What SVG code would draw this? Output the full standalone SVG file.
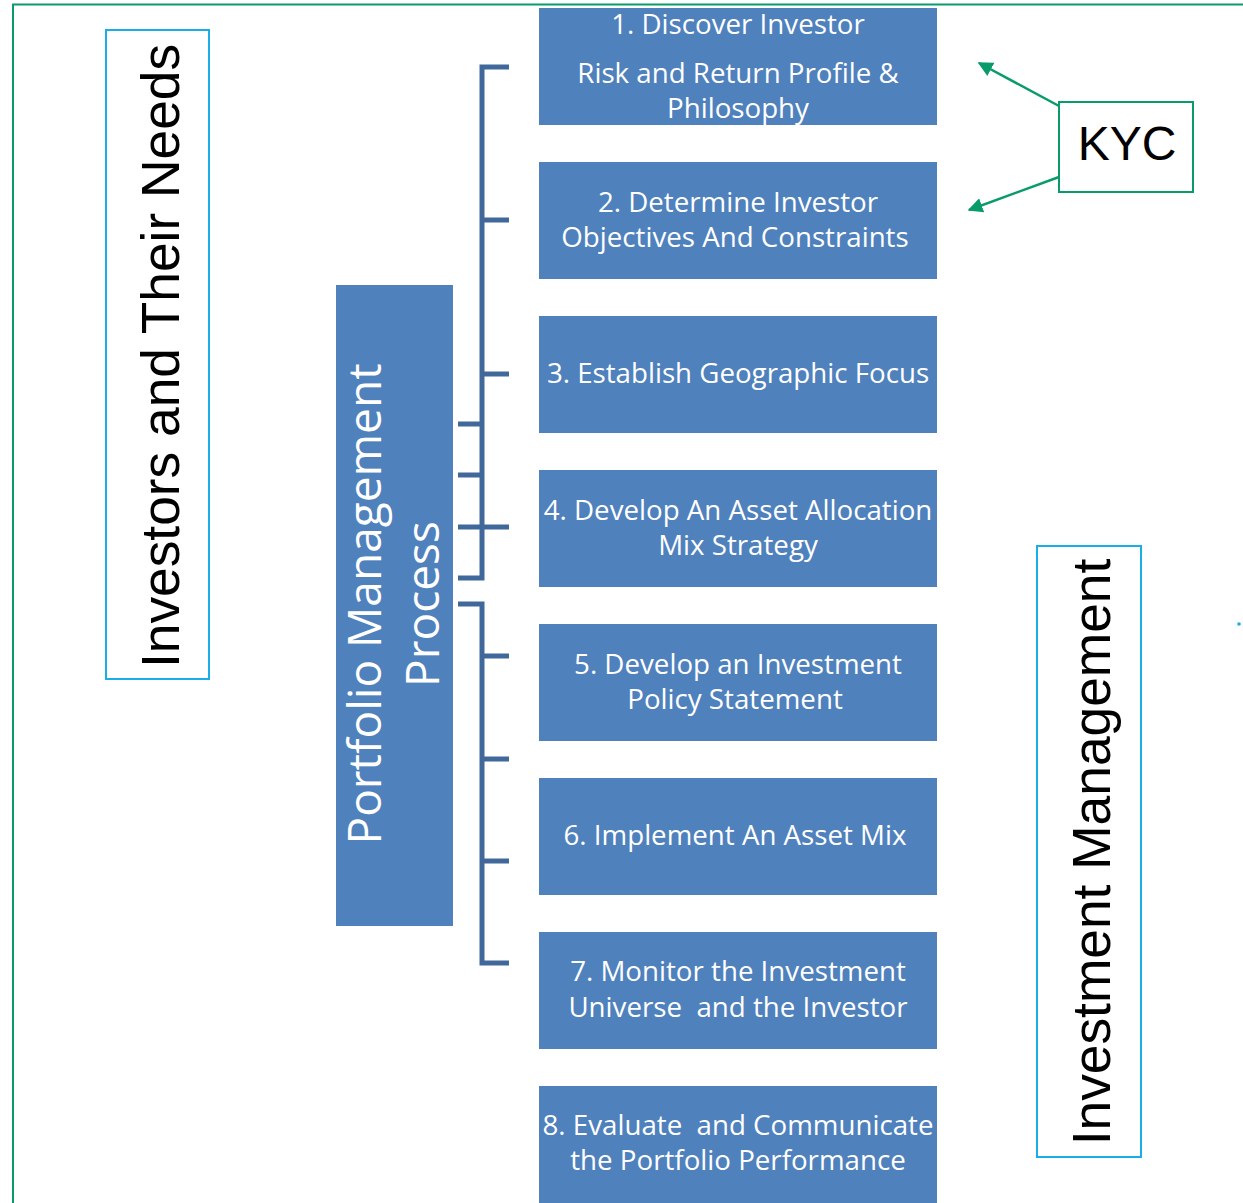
<svg xmlns="http://www.w3.org/2000/svg" width="1243" height="1203" viewBox="0 0 1243 1203">
<defs>
<style>
.step{fill:#4F81BD;}
.st{font-family:"Open Sans","Noto Sans",sans-serif;font-size:27.7px;fill:#fff;text-anchor:middle;}
.big{font-family:"Liberation Sans",Arial,sans-serif;font-size:53.3px;fill:#000;text-anchor:middle;}
.pm{font-family:"Open Sans","Noto Sans",sans-serif;font-size:46px;fill:#fff;text-anchor:middle;}
.br{fill:none;stroke:#41689A;stroke-width:5;}
.kyc{stroke:#0A9B6A;stroke-width:2.5;fill:none;}
</style>
<marker id="ah" viewBox="0 0 10 10" refX="9" refY="5" markerWidth="6" markerHeight="6" orient="auto" markerUnits="strokeWidth">
<path d="M0,0 L10,5 L0,10 z" fill="#0A9B6A"/>
</marker>
</defs>
<rect width="1243" height="1203" fill="#fff"/>
<path d="M13,1203 V4.5 H1243" fill="none" stroke="#0A9B6A" stroke-width="2"/>
<g id="investors">
<rect x="106" y="30" width="103" height="649" fill="none" stroke="#1AAEE6" stroke-width="2"/>
<text class="big" transform="translate(179,356) rotate(-90)">Investors and Their Needs</text>
</g>
<g id="pmp">
<rect x="336" y="285" width="117" height="641" fill="#4F81BD"/>
<text class="pm" transform="translate(381,604) rotate(-90)">Portfolio Management</text>
<text class="pm" transform="translate(439,604) rotate(-90)">Process</text>
</g>
<g id="connectors">
<path class="br" d="M509,67 H482 V578 H458 M482,220 H509 M482,374 H509 M458,527 H509 M458,424 H482 M458,475 H482"/>
<path class="br" d="M458,604 H482 V963 H509 M482,656 H509 M482,759 H509 M482,861 H509"/>
<line class="kyc" x1="1059" y1="106" x2="979" y2="63" marker-end="url(#ah)"/>
<line class="kyc" x1="1059" y1="177" x2="969" y2="210" marker-end="url(#ah)"/>
</g>
<g id="step1"><rect class="step" x="539" y="8" width="398" height="117"/>
<text class="st" x="738" y="34">1. Discover Investor</text>
<text class="st" x="738" y="83">Risk and Return Profile &amp;</text>
<text class="st" x="738" y="118">Philosophy</text></g>
<g id="step2"><rect class="step" x="539" y="162" width="398" height="117"/>
<text class="st" x="738" y="212">2. Determine Investor</text>
<text class="st" x="735" y="247">Objectives And Constraints</text></g>
<g id="step3"><rect class="step" x="539" y="316" width="398" height="117"/>
<text class="st" x="738" y="383">3. Establish Geographic Focus</text></g>
<g id="step4"><rect class="step" x="539" y="470" width="398" height="117"/>
<text class="st" x="738" y="520">4. Develop An Asset Allocation</text>
<text class="st" x="738" y="555">Mix Strategy</text></g>
<g id="step5"><rect class="step" x="539" y="624" width="398" height="117"/>
<text class="st" x="738" y="674">5. Develop an Investment</text>
<text class="st" x="735" y="709">Policy Statement</text></g>
<g id="step6"><rect class="step" x="539" y="778" width="398" height="117"/>
<text class="st" x="735" y="845">6. Implement An Asset Mix</text></g>
<g id="step7"><rect class="step" x="539" y="932" width="398" height="117"/>
<text class="st" x="738" y="981">7. Monitor the Investment</text>
<text class="st" x="738" y="1017" xml:space="preserve">Universe  and the Investor</text></g>
<g id="step8"><rect class="step" x="539" y="1086" width="398" height="117"/>
<text class="st" x="738" y="1135" xml:space="preserve">8. Evaluate  and Communicate</text>
<text class="st" x="738" y="1170">the Portfolio Performance</text></g>
<g id="kyc">
<rect x="1059" y="102" width="134" height="90" fill="#fff" stroke="#0A9B6A" stroke-width="2"/>
<text font-family="Liberation Sans,Arial,sans-serif" font-size="48" fill="#000" text-anchor="middle" x="1127" y="160">KYC</text>
</g>
<g id="invmgmt">
<rect x="1037" y="546" width="104" height="611" fill="none" stroke="#1AAEE6" stroke-width="2"/>
<text class="big" transform="translate(1110,852) rotate(-90)">Investment Management</text>
</g>
<circle cx="1239" cy="624" r="1.8" fill="#1AAEE6"/>
</svg>
